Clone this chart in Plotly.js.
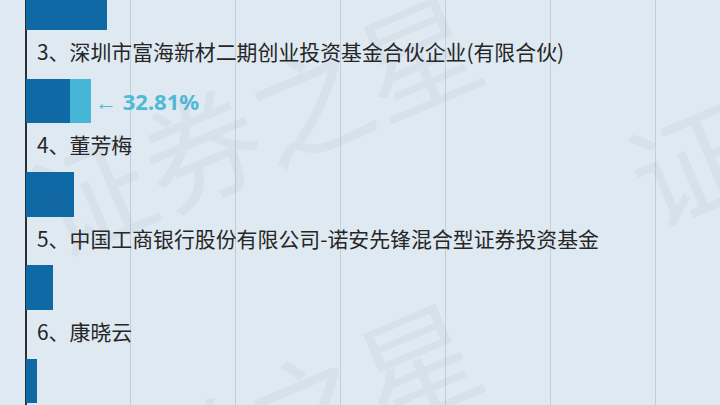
<!DOCTYPE html>
<html>
<head>
<meta charset="utf-8">
<script src="https://cdn.plot.ly/plotly-3.0.1.min.js"></script>
<style>
html,body{margin:0;padding:0;background:#dfe9f2;}
#chart{width:720px;height:405px;}
</style>
</head>
<body>
<div id="chart"></div>
<script>
// ranks shown (2..6), names, previous holding and increase (in gridline units)
const ranks = [2, 3, 4, 5, 6];
const names = ["", "3、深圳市富海新材二期创业投资基金合伙企业(有限合伙)", "4、董芳梅", "5、中国工商银行股份有限公司-诺安先锋混合型证券投资基金", "6、康晓云"];
const baseValues = [0.772, 0.42, 0.458, 0.257, 0.105];
const addValues = [0, 0.20, 0, 0, 0];
const changeLabels = ["", "← 32.81%", "", "", ""];

const traces = [
  {type:'bar', orientation:'h', y:ranks, x:baseValues, width:0.477,
   marker:{color:'#0f69a5'}, hoverinfo:'skip'},
  {type:'bar', orientation:'h', y:ranks, x:addValues, width:0.477,
   marker:{color:'#45b6d6'}, hoverinfo:'skip'}
];

const annotations = [];
ranks.forEach((r,i)=>{
  if(names[i]) annotations.push({x:0, y:r, xref:'x', yref:'y', text:names[i],
    showarrow:false, xanchor:'left', yanchor:'middle', xshift:9, yshift:50,
    font:{family:'Noto Sans CJK SC', size:20.9, color:'#262626'}});
  if(changeLabels[i]) annotations.push({x:baseValues[i]+addValues[i], y:r, xref:'x', yref:'y',
    text:changeLabels[i], showarrow:false, xanchor:'left', yanchor:'middle', xshift:2,
    font:{family:'Noto Sans', size:22, color:'#4dbad6', weight:700}});
});
// watermark
const wm = "证券之星";
[[253,120],[253,428],[850,90]].forEach(p=>{
  annotations.push({x:p[0]/720, y:1-p[1]/405, xref:'paper', yref:'paper', text:wm,
    showarrow:false, textangle:-23, xanchor:'center', yanchor:'middle',
    font:{family:'Noto Sans CJK SC', size:118, color:'rgba(90,100,115,0.06)'}});
});

const layout = {
  width:720, height:405, barmode:'stack', showlegend:false,
  margin:{l:0, r:0, t:0, b:0},
  paper_bgcolor:'#dfe9f2', plot_bgcolor:'#dfe9f2',
  xaxis:{range:[-0.248, 6.618], dtick:1, tick0:0, showgrid:true, gridcolor:'#c4ced8', gridwidth:1,
    zeroline:true, zerolinecolor:'#2a2f36', zerolinewidth:2.5, showticklabels:false, fixedrange:true},
  yaxis:{range:[6.259, 1.914], showgrid:false, zeroline:false, showticklabels:false, fixedrange:true},
  annotations: annotations
};
Plotly.newPlot('chart', traces, layout, {staticPlot:true});
</script>
</body>
</html>
